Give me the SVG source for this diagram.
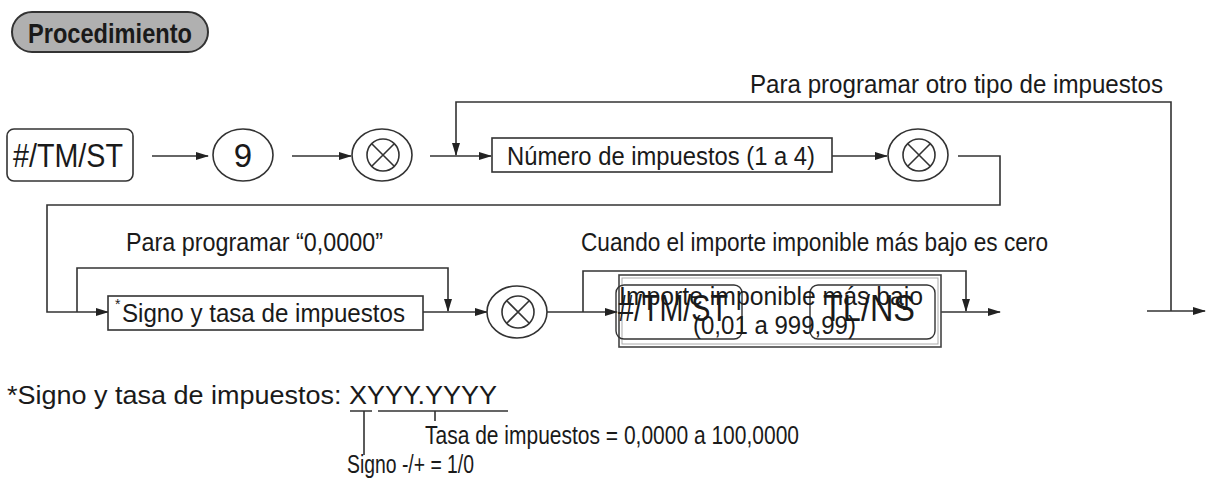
<svg xmlns="http://www.w3.org/2000/svg" width="1209" height="487" viewBox="0 0 1209 487">
<style>
text{font-family:"Liberation Sans",Arial,sans-serif;fill:#1a1a1a}
.lbl{font-size:25.5px}
.key{font-size:33px}
.ln{fill:none;stroke:#333;stroke-width:1.6}
.box{fill:#fff;stroke:#333;stroke-width:1.6}
.ar{marker-end:url(#ah)}
</style>
<defs>
<marker id="ah" markerWidth="13" markerHeight="8" refX="12" refY="4" orient="auto" markerUnits="userSpaceOnUse">
<path d="M0,0 L13,4 L0,8 z" fill="#222"/>
</marker>
<g id="mult">
<ellipse cx="0" cy="0" rx="30" ry="26" fill="#fff" stroke="#333" stroke-width="1.6"/>
<circle cx="1" cy="0" r="16" fill="none" stroke="#333" stroke-width="1.6"/>
<path d="M-10,-11 L12,11 M12,-11 L-10,11" stroke="#333" stroke-width="1.6"/>
</g>
</defs>
<rect width="1209" height="487" fill="#fff"/>

<g id="title">
<rect x="12" y="12" width="196" height="40" rx="20" fill="#b0b0b0" stroke="#333" stroke-width="2"/>
<text x="28" y="43" font-size="28" font-weight="bold" textLength="164" lengthAdjust="spacingAndGlyphs">Procedimiento</text>
</g>

<g id="connectors">
<path class="ln ar" d="M152,156 H208"/>
<path class="ln ar" d="M292,156 H351"/>
<path class="ln ar" d="M430,156 H491"/>
<path class="ln ar" d="M1171,311 V102 H456 V155"/>
<path class="ln ar" d="M832,156 H887"/>
<path class="ln ar" d="M958,156 H1000 V205 H47 V312 H108"/>
<path class="ln ar" d="M77,312 V268 H448 V311"/>
<path class="ln ar" d="M423,312 H487"/>
<path class="ln ar" d="M547,312 H617"/>
<path class="ln ar" d="M583,312 V271 H966 V311"/>
<path class="ln ar" d="M941,312 H1000"/>
<path class="ln ar" d="M1147,311 H1205"/>
</g>

<g id="lbl-loop1"><text class="lbl" x="750" y="93" textLength="413" lengthAdjust="spacingAndGlyphs">Para programar otro tipo de impuestos</text></g>
<g id="lbl-loop2"><text class="lbl" x="126" y="251" textLength="257" lengthAdjust="spacingAndGlyphs">Para programar “0,0000”</text></g>
<g id="lbl-loop3"><text class="lbl" x="581" y="251" textLength="467" lengthAdjust="spacingAndGlyphs">Cuando el importe imponible más bajo es cero</text></g>

<g id="n-key1">
<rect x="7" y="129" width="126" height="52" rx="7" class="box"/>
<text class="key" x="13" y="167" textLength="110" lengthAdjust="spacingAndGlyphs">#/TM/ST</text>
</g>
<g id="n-9">
<ellipse cx="243" cy="155" rx="30" ry="26" class="box"/>
<text class="key" x="243" y="167" text-anchor="middle">9</text>
</g>
<g id="n-x1"><use href="#mult" x="382" y="155"/></g>
<g id="n-num">
<rect x="492" y="138" width="340" height="34" class="box"/>
<text class="lbl" x="507" y="165" textLength="308" lengthAdjust="spacingAndGlyphs">Número de impuestos (1 a 4)</text>
</g>
<g id="n-x2"><use href="#mult" x="918" y="155"/></g>

<g id="n-signo">
<rect x="108" y="296" width="315" height="34" class="box"/>
<text x="115" y="309" font-size="14">*</text>
<text class="lbl" x="122" y="322" textLength="283" lengthAdjust="spacingAndGlyphs">Signo y tasa de impuestos</text>
</g>
<g id="n-x3"><use href="#mult" x="517" y="312"/></g>

<g id="n-importe">
<rect x="619" y="275" width="322" height="72" fill="#fff" stroke="#444" stroke-width="1.6"/>
<rect x="622" y="278" width="316" height="66" fill="none" stroke="#aaa" stroke-width="1"/>
<rect x="616" y="285" width="126" height="54" rx="8" fill="none" stroke="#333" stroke-width="1.4"/>
<rect x="810" y="285" width="125" height="54" rx="8" fill="none" stroke="#333" stroke-width="1.4"/>
<text class="lbl" x="619" y="305" textLength="304" lengthAdjust="spacingAndGlyphs">Importe imponible más bajo</text>
<text class="lbl" x="693" y="334" textLength="163" lengthAdjust="spacingAndGlyphs">(0,01 a 999,99)</text>
<text x="618" y="321" font-size="36" textLength="110" lengthAdjust="spacingAndGlyphs">#/TM/ST</text>
<text x="823" y="321" font-size="36" textLength="92" lengthAdjust="spacingAndGlyphs">TL/NS</text>
</g>

<g id="footnote">
<text class="lbl" x="7" y="404" textLength="490" lengthAdjust="spacingAndGlyphs">*Signo y tasa de impuestos: XYYY.YYYY</text>
<path class="ln" d="M350,411 H372 M378,411 H508 M364,411 V455 M435,411 V421"/>
<text class="lbl" x="425" y="444" textLength="374" lengthAdjust="spacingAndGlyphs">Tasa de impuestos = 0,0000 a 100,0000</text>
<text class="lbl" x="347" y="473" textLength="127" lengthAdjust="spacingAndGlyphs">Signo -/+ = 1/0</text>
</g>
</svg>
